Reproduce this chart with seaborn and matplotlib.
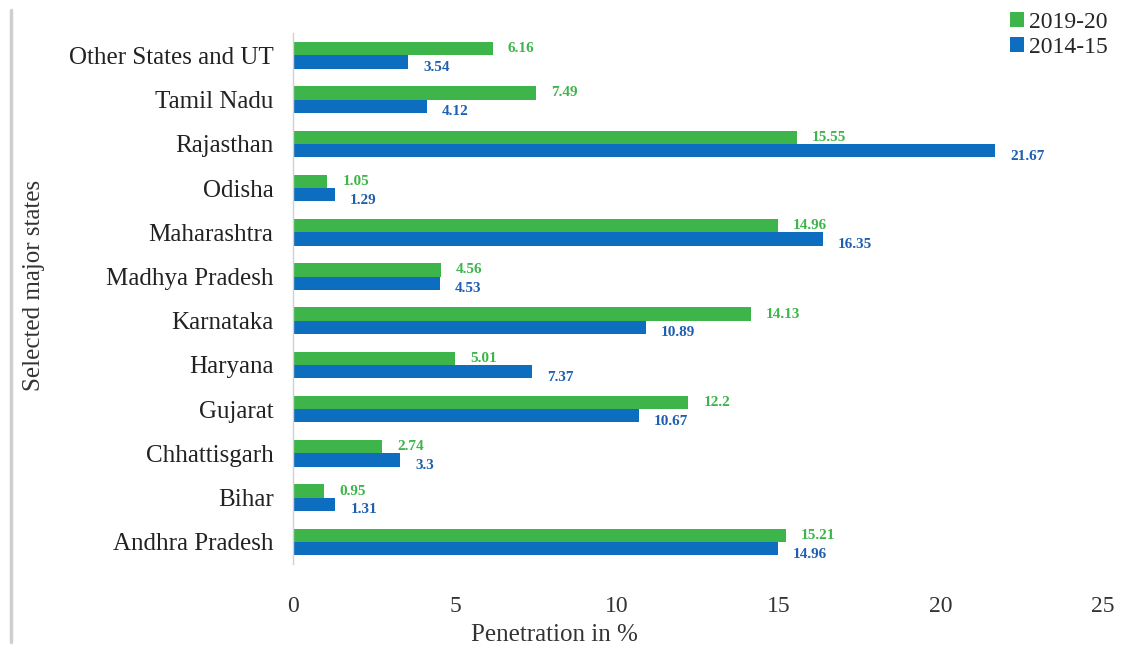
import matplotlib
matplotlib.use("Agg")
import matplotlib.pyplot as plt
from matplotlib.lines import Line2D
import seaborn as sns
import pandas as pd

states = ["Other States and UT", "Tamil Nadu", "Rajasthan", "Odisha", "Maharashtra",
          "Madhya Pradesh", "Karnataka", "Haryana", "Gujarat", "Chhattisgarh",
          "Bihar", "Andhra Pradesh"]
pen_2019_20 = [6.16, 7.49, 15.55, 1.05, 14.96, 4.56, 14.13, 5.01, 12.2, 2.74, 0.95, 15.21]
pen_2014_15 = [3.54, 4.12, 21.67, 1.29, 16.35, 4.53, 10.89, 7.37, 10.67, 3.3, 1.31, 14.96]
periods = ["2019-20", "2014-15"]
x_ticks = [0, 5, 10, 15, 20, 25]

green = "#3DB54A"
blue = "#0D6EBF"

df = pd.DataFrame({
    "state": states * 2,
    "period": [periods[0]] * len(states) + [periods[1]] * len(states),
    "value": pen_2019_20 + pen_2014_15,
})

sns.set_theme(style="white")
plt.rcParams["font.family"] = ["Liberation Serif", "DejaVu Serif"]

fig = plt.figure(figsize=(11.24, 6.52), dpi=100)
ax = fig.add_axes([0.2607, 0.135, 0.7206, 0.814])

sns.barplot(data=df, y="state", x="value", hue="period", order=states,
            hue_order=periods, palette=[green, blue], orient="h",
            width=0.6, saturation=1, linewidth=0, ax=ax, legend=True)

label_colors = [green, "#1F5FB0"]
offsets = [(11, 0), (11, -4)]
for cont, col, off in zip(ax.containers, label_colors, offsets):
    for bar in cont:
        w = bar.get_width()
        yc = bar.get_y() + bar.get_height() / 2
        ax.annotate(f"{w:g}", xy=(w, yc), xytext=off, textcoords="offset points",
                    ha="left", va="center", fontsize=11, fontweight="bold", color=col)

ax.set_xlim(0, 25)
ax.set_ylim(11.5, -0.5)
ax.set_xticks(x_ticks)
ax.set_xticklabels([str(t) for t in x_ticks], fontsize=17, color="#333333")
ax.tick_params(axis="y", labelsize=18, labelcolor="#222222", length=0, pad=14)
ax.tick_params(axis="x", length=0, pad=23)
ax.set_xlabel("Penetration in %", fontsize=18, color="#333333")
ax.xaxis.set_label_coords(0.323, -0.113)
ax.set_ylabel("Selected major states", fontsize=18, color="#333333")
ax.yaxis.set_label_coords(-0.306, 0.525)

for s in ["top", "right", "bottom"]:
    ax.spines[s].set_visible(False)
ax.spines["left"].set_color("#d0d0d0")
ax.spines["left"].set_linewidth(1)

handles, labels = ax.get_legend_handles_labels()
ax.get_legend().remove()
fig.legend(handles, labels, loc="upper right", bbox_to_anchor=(0.998, 1.003),
           frameon=False, fontsize=17, handlelength=0.6, handleheight=0.6,
           handletextpad=0.2, labelspacing=0.15, borderaxespad=0.2)

# thin frame line along the left edge of the figure
fig.add_artist(Line2D([0.0098, 0.0098], [0.015, 0.985], transform=fig.transFigure,
                      color="#cfcfcf", linewidth=2.5))

fig.savefig("out.png", dpi=100)
